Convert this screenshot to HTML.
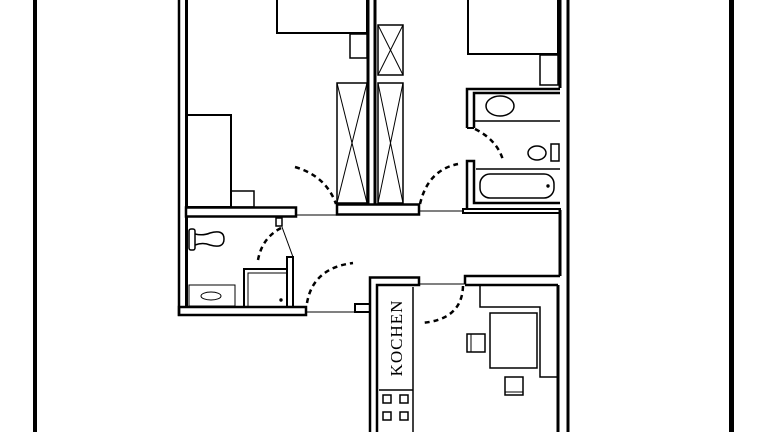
<!DOCTYPE html>
<html><head><meta charset="utf-8"><style>
html,body{margin:0;padding:0;background:#fff;width:768px;height:432px;overflow:hidden}
svg{display:block}
</style></head><body>
<svg width="768" height="432" viewBox="0 0 768 432" xmlns="http://www.w3.org/2000/svg">
<g fill="none" stroke="#000">
<rect x="33" y="0" width="4" height="432" fill="#000" stroke="none"/>
<rect x="729" y="0" width="5" height="432" fill="#000" stroke="none"/>

<line x1="179" y1="0" x2="179" y2="316" stroke-width="2.5"/>
<line x1="186.5" y1="0" x2="186.5" y2="208" stroke-width="3"/>
<line x1="186.5" y1="217" x2="186.5" y2="307" stroke-width="3"/>
<line x1="368" y1="0" x2="368" y2="204" stroke-width="3"/>
<line x1="375" y1="0" x2="375" y2="204" stroke-width="3"/>
<line x1="568" y1="0" x2="568" y2="432" stroke-width="3"/>
<line x1="560" y1="0" x2="560" y2="88" stroke-width="3"/>
<line x1="560" y1="210" x2="560" y2="276" stroke-width="3"/>
<line x1="558" y1="285" x2="558" y2="432" stroke-width="3"/>

<rect x="186" y="207.5" width="110" height="9" stroke-width="2.5"/>
<line x1="296" y1="215" x2="337" y2="215" stroke-width="1"/>
<rect x="337" y="204.5" width="82" height="10" stroke-width="2.5"/>
<line x1="419" y1="211" x2="463" y2="211" stroke-width="1"/>
<rect x="463" y="209" width="97" height="4" stroke-width="2"/>

<rect x="277" y="-2" width="90" height="35" stroke-width="2"/>
<rect x="350" y="34" width="17" height="24" stroke-width="1.5"/>
<rect x="187" y="115" width="44" height="92" stroke-width="2"/>
<rect x="231" y="191" width="23" height="16" stroke-width="1.5"/>
<rect x="337" y="83" width="30" height="120" stroke-width="1.5"/>
<path d="M337 83 L367 203 M367 83 L337 203" stroke-width="1"/>
<rect x="378" y="25" width="25" height="50" stroke-width="1.5"/>
<path d="M378 25 L403 75 M403 25 L378 75" stroke-width="1"/>
<rect x="378" y="83" width="25" height="120" stroke-width="1.5"/>
<path d="M378 83 L403 203 M403 83 L378 203" stroke-width="1"/>
<path d="M295 167 Q326 176 336 204" stroke-width="2.5" stroke-dasharray="5,4"/>

<rect x="468" y="-2" width="90" height="56" stroke-width="2"/>
<rect x="540" y="55" width="18" height="30" stroke-width="1.5"/>
<path d="M420 204 Q428 170 458 164" stroke-width="2.5" stroke-dasharray="5,4"/>
<path d="M467 128 L467 89 L560 89" stroke-width="2.5"/>
<path d="M474 128 L474 93 L560 93" stroke-width="2.5"/>
<line x1="467" y1="128" x2="474" y2="128" stroke-width="2"/>
<line x1="474" y1="121" x2="560" y2="121" stroke-width="1.5"/>
<ellipse cx="500" cy="106" rx="14" ry="10" stroke-width="1.5"/>
<path d="M475 129 Q497 140 503 160" stroke-width="2.5" stroke-dasharray="5,4"/>
<ellipse cx="537" cy="153" rx="9" ry="7" stroke-width="1.5"/>
<rect x="551" y="144" width="8" height="17" stroke-width="1.5"/>
<path d="M467 208 L467 161 L474 161 L474 203 L560 203" stroke-width="2.5"/>
<line x1="476" y1="169" x2="560" y2="169" stroke-width="1.5"/>
<rect x="480" y="174" width="74" height="24" rx="10" stroke-width="1.5"/>
<circle cx="548" cy="186" r="1.2" fill="#000"/>

<rect x="179" y="307" width="127" height="8" stroke-width="2.5"/>
<line x1="306" y1="312" x2="355" y2="312" stroke-width="1"/>
<rect x="355" y="304" width="15" height="8" stroke-width="2"/>
<rect x="276" y="218" width="6" height="8" stroke-width="1.5"/>
<rect x="189" y="229" width="6" height="21" rx="2" stroke-width="1.5"/>
<path d="M195 234 Q203 236 210 233 Q224 229 224 239 Q224 249 210 245 Q203 242 195 245" stroke-width="1.5"/>
<path d="M281 228 Q262 238 258 260" stroke-width="2.5" stroke-dasharray="5,4"/>
<line x1="282" y1="227" x2="293" y2="257" stroke-width="1"/>
<rect x="287" y="257" width="6" height="50" stroke-width="2"/>
<rect x="244" y="269" width="43" height="38" stroke-width="2"/>
<rect x="248" y="273" width="39" height="34" stroke-width="1"/>
<circle cx="281" cy="300" r="1.2" fill="#000"/>
<rect x="189" y="285" width="46" height="21" stroke-width="1"/>
<ellipse cx="211" cy="296" rx="10" ry="4" stroke-width="1"/>
<path d="M307 303 Q313 268 353 263" stroke-width="2.5" stroke-dasharray="5,4"/>

<path d="M370 432 L370 277.5 L419 277.5 L419 285 L377 285 L377 432" stroke-width="2.5"/>
<line x1="419" y1="284" x2="465" y2="284" stroke-width="1"/>
<path d="M465 284 L465 276 L560 276" stroke-width="2.5"/>
<line x1="465" y1="285" x2="558" y2="285" stroke-width="2.5"/>
<line x1="413" y1="287" x2="413" y2="432" stroke-width="1.5"/>
<line x1="379" y1="390" x2="413" y2="390" stroke-width="1.5"/>
<rect x="383" y="395" width="8" height="8" stroke-width="1.5"/>
<rect x="400" y="395" width="8" height="8" stroke-width="1.5"/>
<rect x="383" y="412" width="8" height="8" stroke-width="1.5"/>
<rect x="400" y="412" width="8" height="8" stroke-width="1.5"/>
<path d="M463 286 Q462 320 421 323" stroke-width="2.5" stroke-dasharray="5,4"/>

<path d="M480 286 L480 307 L540 307 L540 377 L558 377" stroke-width="1.5"/>
<rect x="490" y="313" width="47" height="55" stroke-width="1.5"/>
<rect x="467" y="334" width="18" height="18" stroke-width="1.5"/>
<line x1="471" y1="334" x2="471" y2="352" stroke-width="1"/>
<rect x="505" y="377" width="18" height="18" stroke-width="1.5"/>
<line x1="505" y1="392" x2="523" y2="392" stroke-width="1"/>
</g>
<text transform="translate(402,338) rotate(-90)" text-anchor="middle" font-family="Liberation Serif, serif" font-size="17" letter-spacing="1" fill="#000">KOCHEN</text>
</svg>
</body></html>
